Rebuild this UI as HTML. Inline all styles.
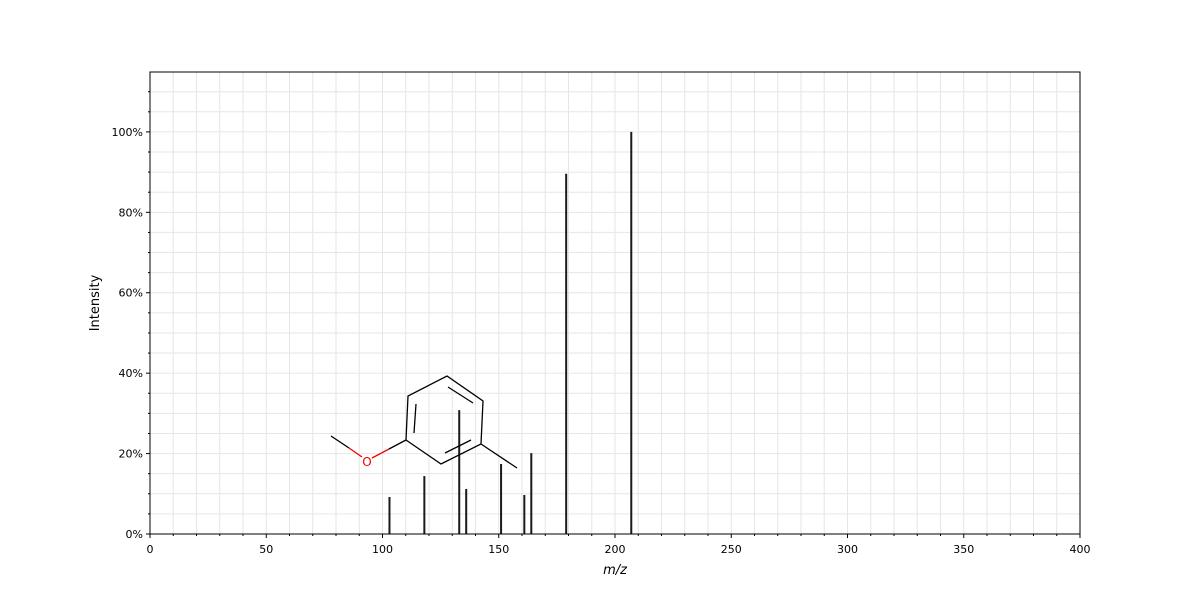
<!DOCTYPE html>
<html><head><meta charset="utf-8"><style>
body{margin:0;background:#fff;}
svg{display:block;font-family:"DejaVu Sans","Liberation Sans",sans-serif;}
</style></head><body>
<svg id="chart" width="1200" height="600" viewBox="0 0 1200 600">
<g id="grid"></g>
<g id="peaks"></g>
<g id="mol" stroke="#000" stroke-width="1.3" fill="none">
<line x1="331" y1="436" x2="349" y2="448"/>
<line x1="349" y1="448" x2="362" y2="457" stroke="#e00"/>
<line x1="372" y1="458" x2="389" y2="449" stroke="#e00"/>
<line x1="389" y1="449" x2="406" y2="440"/>
<polyline points="406,440 408,396 447,376 483,401 481,444 441,464 406,440"/>
<line x1="416" y1="404" x2="414" y2="433"/>
<line x1="448" y1="387" x2="473" y2="403"/>
<line x1="445" y1="453" x2="471" y2="440"/>
<line x1="481" y1="444" x2="517" y2="468"/>
</g>
<text x="367" y="466" font-size="12" fill="#e00" text-anchor="middle">O</text>
<rect x="150" y="72" width="930" height="462" fill="none" stroke="#000" stroke-width="1"/>
<g id="ticks"></g>
<text x="615" y="574" font-size="13" font-style="italic" text-anchor="middle">m/z</text>
<text transform="translate(99,303) rotate(-90)" font-size="13" text-anchor="middle">Intensity</text>
</svg>
<script>
const mzValues=[103,118,133,136,151,161,164,179,207];
const intensities=[9.2,14.4,30.8,11.2,17.4,9.7,20.1,89.6,100];
const xTickLabels=[0,50,100,150,200,250,300,350,400];
const yTickLabels=[0,20,40,60,80,100];
const NS="http://www.w3.org/2000/svg";
const X0=150,X1=1080,Y0=534,Y1=72,XMAX=400,YMAX=114.9;
const sx=v=>X0+v/XMAX*(X1-X0);
const sy=v=>Y0-v/YMAX*(Y0-Y1);
function mk(tag,attrs,parent){const e=document.createElementNS(NS,tag);for(const k in attrs)e.setAttribute(k,attrs[k]);parent.appendChild(e);return e;}
const grid=document.getElementById('grid');
for(let v=10;v<XMAX;v+=10){const l=mk('line',{x1:sx(v),x2:sx(v),y1:Y1,y2:Y0,stroke:'#e6e6e6','stroke-width':1},grid);

}
for(let v=5;v<YMAX;v+=5){const l=mk('line',{x1:X0,x2:X1,y1:sy(v),y2:sy(v),stroke:'#e6e6e6','stroke-width':1},grid);

}
const peaks=document.getElementById('peaks');
mzValues.forEach((m,i)=>{const l=mk('line',{x1:sx(m),x2:sx(m),y1:Y0,y2:sy(intensities[i]),stroke:'#1a1a1a','stroke-width':2},peaks);

});
const ticks=document.getElementById('ticks');
for(let v=0;v<=XMAX;v+=10){const major=v%50===0;mk('line',{x1:sx(v),x2:sx(v),y1:Y0,y2:Y0+(major?4:2),stroke:'#000'},ticks);}
xTickLabels.forEach(v=>{const t=mk('text',{x:sx(v),y:Y0+19,'font-size':11,'text-anchor':'middle'},ticks);t.textContent=v;

});
for(let v=0;v<YMAX;v+=5){const major=v%20===0;mk('line',{x1:X0,x2:X0-(major?4:2),y1:sy(v),y2:sy(v),stroke:'#000'},ticks);}
yTickLabels.forEach(v=>{const t=mk('text',{x:X0-7,y:sy(v)+4,'font-size':11,'text-anchor':'end'},ticks);t.textContent=v+'%';

});
</script>
</body></html>
